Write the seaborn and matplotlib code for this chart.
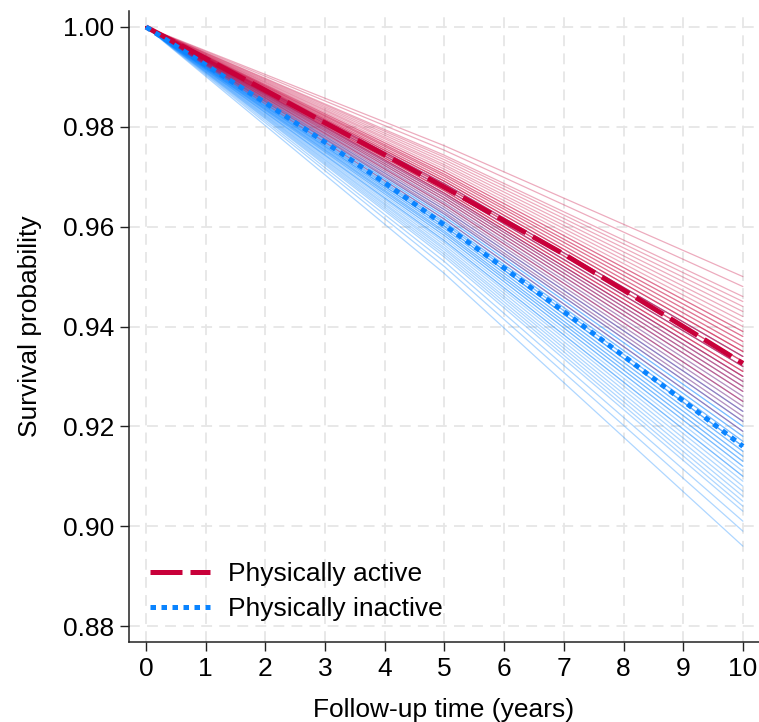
import matplotlib
matplotlib.use("Agg")
import matplotlib.pyplot as plt
import pandas as pd
import seaborn as sns

# mean survival curves
years = [0, 1, 2, 3, 4, 5, 6, 7, 8, 9, 10]
active_mean = [1.0, 0.9937, 0.9873, 0.9808, 0.9744, 0.9679, 0.9612, 0.9545, 0.9473, 0.9400, 0.9326]
inactive_mean = [1.0, 0.9924, 0.9848, 0.9769, 0.9688, 0.9603, 0.9517, 0.9430, 0.9341, 0.9251, 0.9160]

# thin simulated curves: value at year 5 and at year 10 (all start at 1.0)
active_mid = [0.9615, 0.9625, 0.9629, 0.9634, 0.9639, 0.9644, 0.9644, 0.9648, 0.9653, 0.9653,
              0.9658, 0.9658, 0.9663, 0.9663, 0.9667, 0.9667, 0.9667, 0.9672, 0.9672, 0.9672,
              0.9677, 0.9677, 0.9677, 0.9682, 0.9682, 0.9682, 0.9686, 0.9686, 0.9686, 0.9691,
              0.9691, 0.9691, 0.9696, 0.9696, 0.9701, 0.9701, 0.9705, 0.9705, 0.9710, 0.9710,
              0.9715, 0.9720, 0.9724, 0.9729, 0.9734, 0.9739, 0.9743, 0.9753, 0.9762]
active_end = [0.919, 0.921, 0.922, 0.923, 0.924, 0.925, 0.925, 0.926, 0.927, 0.927,
              0.928, 0.928, 0.929, 0.929, 0.930, 0.930, 0.930, 0.931, 0.931, 0.931,
              0.932, 0.932, 0.932, 0.933, 0.933, 0.933, 0.934, 0.934, 0.934, 0.935,
              0.935, 0.935, 0.936, 0.936, 0.937, 0.937, 0.938, 0.938, 0.939, 0.939,
              0.940, 0.941, 0.942, 0.943, 0.944, 0.945, 0.946, 0.948, 0.950]
inactive_mid = [0.9506, 0.9520, 0.9530, 0.9539, 0.9544, 0.9549, 0.9554, 0.9558, 0.9563, 0.9568,
                0.9572, 0.9572, 0.9577, 0.9582, 0.9582, 0.9587, 0.9587, 0.9591, 0.9591, 0.9596,
                0.9596, 0.9601, 0.9601, 0.9601, 0.9606, 0.9606, 0.9610, 0.9610, 0.9615, 0.9615,
                0.9620, 0.9620, 0.9625, 0.9625, 0.9629, 0.9634, 0.9634, 0.9639, 0.9644, 0.9648,
                0.9653, 0.9658, 0.9663, 0.9667, 0.9677, 0.9686]
inactive_end = [0.896, 0.899, 0.901, 0.903, 0.904, 0.905, 0.906, 0.907, 0.908, 0.909,
                0.910, 0.910, 0.911, 0.912, 0.912, 0.913, 0.913, 0.914, 0.914, 0.915,
                0.915, 0.916, 0.916, 0.916, 0.917, 0.917, 0.918, 0.918, 0.919, 0.919,
                0.920, 0.920, 0.921, 0.921, 0.922, 0.923, 0.923, 0.924, 0.925, 0.926,
                0.927, 0.928, 0.929, 0.930, 0.932, 0.934]

labels = ["Physically active", "Physically inactive"]
red = "#c8003a"
blue = "#0a84ff"

rows = []
for grp, mids, ends in [("inactive", inactive_mid, inactive_end), ("active", active_mid, active_end)]:
    for i in range(len(ends)):
        rows.append({"group": grp, "draw": i, "year": 0, "surv": 1.0})
        rows.append({"group": grp, "draw": i, "year": 5, "surv": mids[i]})
        rows.append({"group": grp, "draw": i, "year": 10, "surv": ends[i]})
thin = pd.DataFrame(rows)

sns.set_theme(style="white")
plt.rcParams["font.family"] = ["Liberation Sans", "DejaVu Sans"]
plt.rcParams["axes.labelcolor"] = "black"
plt.rcParams["text.color"] = "black"

fig = plt.figure(figsize=(7.59, 7.22), dpi=100)
ax = fig.add_axes([129 / 759, 1 - 642 / 722, 630 / 759, 631 / 722])

sns.lineplot(data=thin, x="year", y="surv", hue="group", units="draw", estimator=None,
             palette={"inactive": blue, "active": red}, lw=0.9, alpha=0.33,
             legend=False, ax=ax)

sns.lineplot(x=years, y=active_mean, color=red, lw=3.6, ax=ax)
ln_a = ax.lines[-1]
ln_a.set_linestyle((0, (6.4, 1.6)))
sns.lineplot(x=years, y=inactive_mean, color=blue, lw=3.6, ax=ax)
ln_i = ax.lines[-1]
ln_i.set_linestyle((0, (1.1, 1.1)))

ax.set_xlim(-0.285, 10.27)
ax.set_ylim(0.8768, 1.0032)
ax.set_xticks(range(0, 11))
ax.set_yticks([0.88, 0.90, 0.92, 0.94, 0.96, 0.98, 1.00])
ax.set_yticklabels(["0.88", "0.90", "0.92", "0.94", "0.96", "0.98", "1.00"])
ax.grid(True, color="#e6e6e6", lw=1.3, ls=(0, (6, 4)))
ax.set_axisbelow(True)
for s in ["top", "right"]:
    ax.spines[s].set_visible(False)
for s in ["left", "bottom"]:
    ax.spines[s].set_color("#222222")
    ax.spines[s].set_linewidth(1.1)
ax.tick_params(axis="both", direction="out", length=6.5, width=1.0, color="#222222",
               labelsize=19, labelcolor="black", pad=4, left=True, bottom=True)

ax.set_xlabel("Follow-up time (years)", fontsize=19, labelpad=12.5)
ax.set_ylabel("Survival probability", fontsize=19, labelpad=15)

ax.legend(handles=[ln_a, ln_i], labels=labels, loc="lower left",
          bbox_to_anchor=(0.033, 0.033), frameon=False, fontsize=19,
          handlelength=2.27, handletextpad=0.68, borderpad=0, borderaxespad=0,
          labelspacing=0.43)

fig.savefig("out.png", dpi=100)
